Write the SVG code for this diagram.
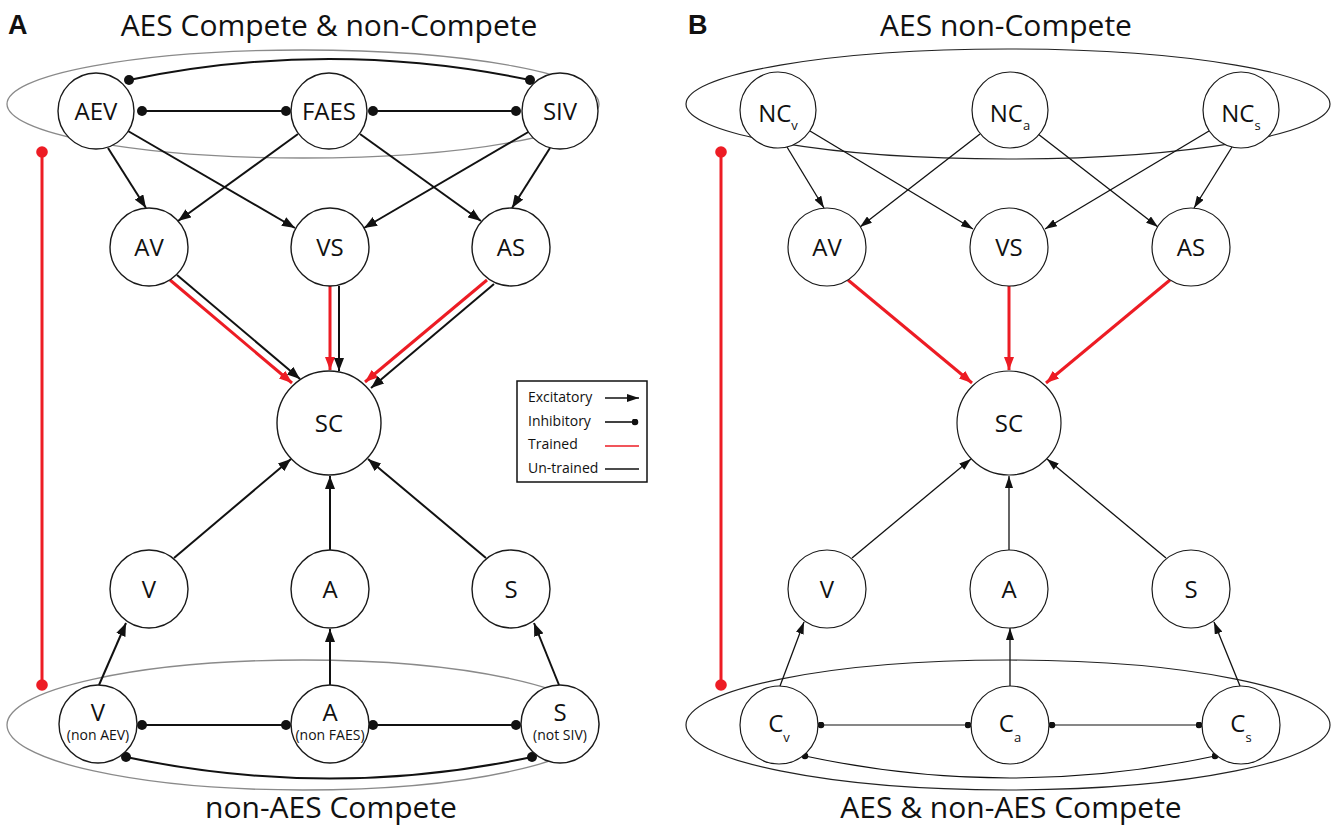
<svg xmlns="http://www.w3.org/2000/svg" width="1334" height="830" viewBox="0 0 1334 830">
<style>
  .bg{fill:#ffffff}
  .node circle{fill:#ffffff;stroke:#1a1a1a;stroke-width:1.4}
  .nb circle{stroke-width:1.2}
  .lbl{font-family:"Open Sans","Liberation Sans",sans-serif;font-size:24px;fill:#111;text-anchor:middle}
  .sub{font-family:"Open Sans","Liberation Sans",sans-serif;font-size:14px;fill:#111;text-anchor:middle}
  .title{font-family:"Open Sans","Liberation Sans",sans-serif;font-size:30px;fill:#111;text-anchor:middle}
  .panel{font-family:"Liberation Sans",Arial,sans-serif;font-size:27px;font-weight:bold;fill:#111}
  .leg{font-family:"Open Sans","Liberation Sans",sans-serif;font-size:14px;fill:#111}
  .ellA{fill:none;stroke:#8a8a8a;stroke-width:1.3}
  .ellB{fill:none;stroke:#222;stroke-width:1.2}
  .exA{fill:none;stroke:#111;stroke-width:2;marker-end:url(#arrA)}
  .exR{fill:none;stroke:#ed1c24;stroke-width:3;marker-end:url(#arrR)}
  .exB{fill:none;stroke:#111;stroke-width:1.3;marker-end:url(#arrB)}
  .inA{fill:none;stroke:#111;stroke-width:2;marker-start:url(#dotA);marker-end:url(#dotA)}
  .inB{fill:none;stroke:#111;stroke-width:1.1;marker-start:url(#dotB);marker-end:url(#dotB)}
  .red{fill:none;stroke:#ed1c24;stroke-width:3;marker-start:url(#dotR);marker-end:url(#dotR)}
</style>
<defs>
  <marker id="arrA" markerUnits="userSpaceOnUse" viewBox="0 0 13 10" refX="13" refY="5" markerWidth="13" markerHeight="10" orient="auto"><path d="M0,0 L13,5 L0,10 z" fill="#111"/></marker>
  <marker id="arrR" markerUnits="userSpaceOnUse" viewBox="0 0 13 10" refX="13" refY="5" markerWidth="13" markerHeight="10" orient="auto"><path d="M0,0 L13,5 L0,10 z" fill="#ed1c24"/></marker>
  <marker id="arrB" markerUnits="userSpaceOnUse" viewBox="0 0 12 8" refX="12" refY="4" markerWidth="12" markerHeight="8" orient="auto"><path d="M0,0 L12,4 L0,8 z" fill="#111"/></marker>
  <marker id="dotA" markerUnits="userSpaceOnUse" viewBox="0 0 10 10" refX="5" refY="5" markerWidth="10" markerHeight="10"><circle cx="5" cy="5" r="5" fill="#111"/></marker>
  <marker id="dotB" markerUnits="userSpaceOnUse" viewBox="0 0 7 7" refX="3.5" refY="3.5" markerWidth="7" markerHeight="7"><circle cx="3.5" cy="3.5" r="3.3" fill="#111"/></marker>
  <marker id="dotR" markerUnits="userSpaceOnUse" viewBox="0 0 12 12" refX="6" refY="6" markerWidth="12" markerHeight="12"><circle cx="6" cy="6" r="5.8" fill="#ed1c24"/></marker>
</defs>
<rect class="bg" x="0" y="0" width="1334" height="830"/>

<!-- Panel labels and titles -->
<text class="panel" x="8" y="34">A</text>
<text class="panel" x="688" y="34">B</text>
<text class="title" x="329" y="36">AES Compete &amp; non-Compete</text>
<text class="title" x="331" y="818">non-AES Compete</text>
<text class="title" x="1006" y="36">AES non-Compete</text>
<text class="title" x="1011" y="818">AES &amp; non-AES Compete</text>

<!-- group ellipses -->
<g id="groups">
  <ellipse class="ellA" cx="303" cy="104" rx="296" ry="54"/>
  <ellipse class="ellA" cx="303" cy="725" rx="296" ry="65"/>
  <ellipse class="ellB" cx="1008" cy="104" rx="322" ry="55"/>
  <ellipse class="ellB" cx="1008" cy="725" rx="322" ry="65"/>
</g>

<!-- connectors -->
<g id="connectors">
  <!-- Panel A red trained links between groups -->
  <line class="red" x1="42" y1="152" x2="42" y2="685"/>
  <!-- Panel A inhibitory -->
  <line class="inA" x1="142" y1="111" x2="286" y2="111"/>
  <line class="inA" x1="373" y1="111" x2="516" y2="111"/>
  <path class="inA" d="M129,80 Q329,38 530,80"/>
  <line class="inA" x1="142" y1="725" x2="286" y2="725"/>
  <line class="inA" x1="373" y1="725" x2="516" y2="725"/>
  <path class="inA" d="M126,757 Q330,800 532,757"/>
  <!-- Panel A top to middle -->
  <line class="exA" x1="108" y1="148" x2="146" y2="208"/>
  <line class="exA" x1="128" y1="131" x2="295" y2="228"/>
  <line class="exA" x1="298" y1="134" x2="178" y2="221"/>
  <line class="exA" x1="360" y1="134" x2="481" y2="221"/>
  <line class="exA" x1="530" y1="131" x2="364" y2="228"/>
  <line class="exA" x1="550" y1="148" x2="512" y2="208"/>
  <!-- Panel A middle to SC (trained + untrained) -->
  <line class="exR" x1="170" y1="280" x2="292" y2="383"/>
  <line class="exA" x1="177" y1="275" x2="300" y2="379"/>
  <line class="exR" x1="330" y1="286" x2="330" y2="370"/>
  <line class="exA" x1="339" y1="286" x2="339" y2="371"/>
  <line class="exR" x1="487" y1="280" x2="365" y2="382"/>
  <line class="exA" x1="494" y1="284" x2="371" y2="388"/>
  <!-- Panel A bottom -->
  <line class="exA" x1="174" y1="558" x2="291" y2="459"/>
  <line class="exA" x1="330" y1="550" x2="330" y2="476"/>
  <line class="exA" x1="486" y1="558" x2="368" y2="459"/>
  <line class="exA" x1="99" y1="685" x2="126" y2="623"/>
  <line class="exA" x1="330" y1="685" x2="330" y2="629"/>
  <line class="exA" x1="559" y1="685" x2="534" y2="623"/>

  <!-- Panel B -->
  <line class="red" x1="721" y1="152" x2="721" y2="685"/>
  <line class="inB" x1="821" y1="725" x2="968" y2="725"/>
  <line class="inB" x1="1052" y1="725" x2="1199" y2="725"/>
  <path class="inB" d="M805,756 Q1010,800 1215,756"/>
  <line class="exB" x1="787" y1="147" x2="824" y2="208"/>
  <line class="exB" x1="810" y1="131" x2="973" y2="229"/>
  <line class="exB" x1="980" y1="134" x2="860" y2="227"/>
  <line class="exB" x1="1038" y1="134" x2="1158" y2="227"/>
  <line class="exB" x1="1209" y1="131" x2="1045" y2="229"/>
  <line class="exB" x1="1232" y1="147" x2="1194" y2="208"/>
  <line class="exR" x1="848" y1="280" x2="972" y2="383"/>
  <line class="exR" x1="1009" y1="286" x2="1009" y2="370"/>
  <line class="exR" x1="1170" y1="280" x2="1046" y2="383"/>
  <line class="exB" x1="852" y1="558" x2="971" y2="459"/>
  <line class="exB" x1="1009" y1="550" x2="1009" y2="476"/>
  <line class="exB" x1="1166" y1="558" x2="1047" y2="459"/>
  <line class="exB" x1="780" y1="686" x2="804" y2="622"/>
  <line class="exB" x1="1010" y1="686" x2="1010" y2="628"/>
  <line class="exB" x1="1240" y1="686" x2="1214" y2="622"/>
</g>

<!-- Panel A nodes -->
<g id="A-AEV" class="node"><circle cx="96" cy="111" r="38"/><text class="lbl" x="96" y="119.5">AEV</text></g>
<g id="A-FAES" class="node"><circle cx="329" cy="111" r="38"/><text class="lbl" x="329" y="119.5">FAES</text></g>
<g id="A-SIV" class="node"><circle cx="560" cy="111" r="38"/><text class="lbl" x="560" y="119.5">SIV</text></g>
<g id="A-AV" class="node"><circle cx="149" cy="247" r="39"/><text class="lbl" x="149" y="255.5">AV</text></g>
<g id="A-VS" class="node"><circle cx="330" cy="247" r="39"/><text class="lbl" x="330" y="255.5">VS</text></g>
<g id="A-AS" class="node"><circle cx="511" cy="247" r="39"/><text class="lbl" x="511" y="255.5">AS</text></g>
<g id="A-SC" class="node"><circle cx="329" cy="423" r="52"/><text class="lbl" x="329" y="431.5">SC</text></g>
<g id="A-V" class="node"><circle cx="149" cy="589" r="39"/><text class="lbl" x="149" y="597.5">V</text></g>
<g id="A-A" class="node"><circle cx="330" cy="589" r="39"/><text class="lbl" x="330" y="597.5">A</text></g>
<g id="A-S" class="node"><circle cx="511" cy="589" r="39"/><text class="lbl" x="511" y="597.5">S</text></g>
<g id="A-Vnon" class="node"><circle cx="98" cy="724" r="39"/><text class="lbl" x="98" y="721">V</text><text class="sub" x="98" y="740">(non AEV)</text></g>
<g id="A-Anon" class="node"><circle cx="330" cy="724" r="39"/><text class="lbl" x="330" y="721">A</text><text class="sub" x="330" y="740">(non FAES)</text></g>
<g id="A-Snot" class="node"><circle cx="560" cy="724" r="39"/><text class="lbl" x="560" y="721">S</text><text class="sub" x="560" y="740">(not SIV)</text></g>

<!-- Legend -->
<g id="legend">
  <rect x="517" y="381" width="130" height="101" fill="#fff" stroke="#111" stroke-width="1.5"/>
  <text class="leg" x="528" y="402">Excitatory</text>
  <text class="leg" x="528" y="426">Inhibitory</text>
  <text class="leg" x="528" y="449">Trained</text>
  <text class="leg" x="528" y="473">Un-trained</text>
  <line x1="605" y1="398" x2="639" y2="398" stroke="#111" stroke-width="1.6" marker-end="url(#arrB)"/>
  <line x1="605" y1="422" x2="635" y2="422" stroke="#111" stroke-width="1.6" marker-end="url(#dotB)"/>
  <line x1="605" y1="446" x2="639" y2="446" stroke="#ed1c24" stroke-width="1.6"/>
  <line x1="605" y1="469" x2="639" y2="469" stroke="#111" stroke-width="1.6"/>
</g>

<!-- Panel B nodes -->
<g id="B-NCv" class="node nb"><circle cx="778" cy="110" r="38"/><text class="lbl" x="778" y="122" font-size="21">NC<tspan font-size="13" dy="8">v</tspan></text></g>
<g id="B-NCa" class="node nb"><circle cx="1010" cy="110" r="38"/><text class="lbl" x="1010" y="122" font-size="21">NC<tspan font-size="13" dy="8">a</tspan></text></g>
<g id="B-NCs" class="node nb"><circle cx="1241" cy="110" r="38"/><text class="lbl" x="1241" y="122" font-size="21">NC<tspan font-size="13" dy="8">s</tspan></text></g>
<g id="B-AV" class="node nb"><circle cx="827" cy="247" r="39"/><text class="lbl" x="827" y="255.5">AV</text></g>
<g id="B-VS" class="node nb"><circle cx="1009" cy="247" r="39"/><text class="lbl" x="1009" y="255.5">VS</text></g>
<g id="B-AS" class="node nb"><circle cx="1191" cy="247" r="39"/><text class="lbl" x="1191" y="255.5">AS</text></g>
<g id="B-SC" class="node nb"><circle cx="1009" cy="423" r="52"/><text class="lbl" x="1009" y="431.5">SC</text></g>
<g id="B-V" class="node nb"><circle cx="827" cy="589" r="39"/><text class="lbl" x="827" y="597.5">V</text></g>
<g id="B-A" class="node nb"><circle cx="1009" cy="589" r="39"/><text class="lbl" x="1009" y="597.5">A</text></g>
<g id="B-S" class="node nb"><circle cx="1191" cy="589" r="39"/><text class="lbl" x="1191" y="597.5">S</text></g>
<g id="B-Cv" class="node nb"><circle cx="779" cy="725" r="39"/><text class="lbl" x="779" y="732" font-size="23">C<tspan font-size="13" dy="10">v</tspan></text></g>
<g id="B-Ca" class="node nb"><circle cx="1010" cy="725" r="39"/><text class="lbl" x="1010" y="732" font-size="23">C<tspan font-size="13" dy="10">a</tspan></text></g>
<g id="B-Cs" class="node nb"><circle cx="1241" cy="725" r="39"/><text class="lbl" x="1241" y="732" font-size="23">C<tspan font-size="13" dy="10">s</tspan></text></g>
</svg>
